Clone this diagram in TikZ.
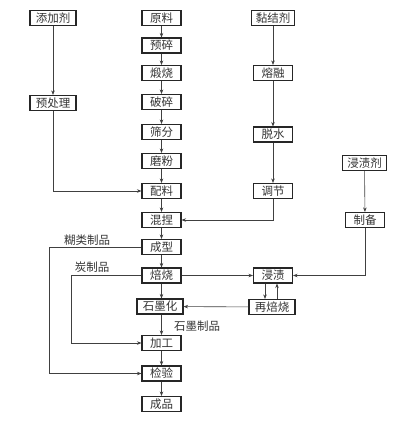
\documentclass[tikz,border=0pt]{standalone}
\usepackage{fontspec}
\newfontfamily\cjk{Noto Sans CJK SC}
\usetikzlibrary{arrows.meta}
\tikzset{
  box/.style={draw=black!85, line width=1.1pt, fill=white, minimum height=15pt, minimum width=39pt, inner sep=1pt, font=\cjk\fontsize{11.5}{12}\selectfont, text=black!80},
  wide/.style={minimum width=46pt},
  conn/.style={draw=black!75, line width=0.6pt, -{Stealth[length=4.5pt,width=3.5pt]}},
  lab/.style={font=\cjk\fontsize{11.5}{12}\selectfont, text=black!80, inner sep=0pt}
}
\begin{document}
\begin{tikzpicture}[x=1pt,y=-1pt]
\useasboundingbox (0,0) rectangle (409,426);
% left column
\node[box,wide] (tjj) at (53,18) {添加剂};
\node[box,wide] (ycl) at (53,103) {预处理};
% main column
\node[box] (yl) at (161.5,18) {原料};
\node[box] (ys) at (161.5,45.5) {预碎};
\node[box] (dsh) at (161.5,73) {煅烧};
\node[box] (ps) at (161.5,102) {破碎};
\node[box] (sf) at (161.5,132) {筛分};
\node[box] (mf) at (161.5,161) {磨粉};
\node[box] (pl) at (161.5,191) {配料};
\node[box] (hn) at (161.5,220) {混捏};
\node[box] (cx) at (161.5,247) {成型};
\node[box] (bs) at (161.5,275.5) {焙烧};
\node[box,wide] (smh) at (160,306.5) {石墨化};
\node[box] (jg) at (161.5,343) {加工};
\node[box] (jy) at (161.5,373.5) {检验};
\node[box] (cp) at (161.5,404) {成品};
% binder column
\node[box,minimum width=43pt] (njj) at (273,18) {黏结剂};
\node[box] (rr) at (273,73) {熔融};
\node[box] (ts) at (273,134.5) {脱水};
\node[box] (tj) at (273,191) {调节};
% impregnation
\node[box,minimum width=44pt] (jzj) at (364.5,163) {浸渍剂};
\node[box] (zb) at (365,220) {制备};
\node[box] (jz) at (273,275.5) {浸渍};
\node[box,wide] (zbs) at (272,307) {再焙烧};
% labels
\node[lab] (l1) at (87,240) {糊类制品};
\node[lab] (l2) at (92,267) {炭制品};
\node[lab] (l3) at (197,326) {石墨制品};
% coordinates
\coordinate (gl) at (49,0);
\coordinate (cl) at (71,0);
% connectors
\draw[conn] (tjj) -- (ycl);
\draw[conn] (ycl) |- (pl);
\draw[conn] (yl) -- (ys);
\draw[conn] (ys) -- (dsh);
\draw[conn] (dsh) -- (ps);
\draw[conn] (ps) -- (sf);
\draw[conn] (sf) -- (mf);
\draw[conn] (mf) -- (pl);
\draw[conn] (pl) -- (hn);
\draw[conn] (hn) -- (cx);
\draw[conn] (cx) -- (bs);
\draw[conn] (bs.south) -- (bs.south |- smh.north);
\draw[conn] (smh.south -| jg.north) -- (jg.north);
\draw[conn] (jg) -- (jy);
\draw[conn] (jy) -- (cp);
\draw[conn] (njj) -- (rr);
\draw[conn] (rr) -- (ts);
\draw[conn] (ts) -- (tj);
\draw[conn] (tj) |- (hn);
\draw[conn] (jzj) -- (zb);
\draw[conn] (zb) |- (jz);
\draw[conn] (bs) -- (jz);
\draw[conn] ([xshift=-8pt]jz.south) -- ([xshift=-8pt]jz.south |- zbs.north);
\draw[conn] ([xshift=4pt]jz.south |- zbs.north) -- ([xshift=4pt]jz.south);
\draw[conn] (zbs) -- (smh);
\draw[conn] (cx.west) -| (gl |- jy.west) -- (jy.west);
\draw[conn] (bs.west) -| (cl |- jg.west) -- (jg.west);
\end{tikzpicture}
\end{document}
